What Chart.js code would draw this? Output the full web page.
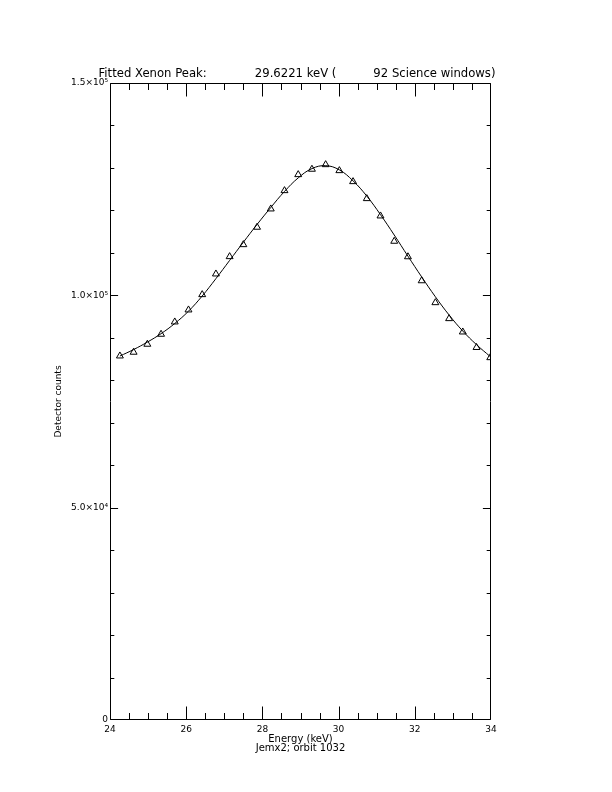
<!DOCTYPE html>
<html>
<head>
<meta charset="utf-8">
<title>Fitted Xenon Peak</title>
<script src="https://cdn.jsdelivr.net/npm/chart.js@4.4.0/dist/chart.umd.min.js"></script>
<style>
  html, body { margin: 0; padding: 0; background: #fff; }
  canvas { display: block; }
</style>
</head>
<body>
<canvas id="peak" width="612" height="792"></canvas>
<script>
// channel energies (keV)
const energies = [
    24.26, 24.62, 24.98, 25.34, 25.70, 26.06, 26.42, 26.78, 27.14, 27.50,
    27.86, 28.22, 28.58, 28.94, 29.30, 29.66, 30.02, 30.38, 30.74, 31.10,
    31.46, 31.82, 32.18, 32.54, 32.90, 33.26, 33.62, 33.98
];
// measured detector counts (triangles)
const measuredCounts = [
    85720, 86600, 88480, 90830, 93730, 96560, 100160, 105030, 109110, 111930,
    116030, 120340, 124650, 128420, 129690, 130770, 129360, 126770, 122770, 118690,
    112730, 109080, 103430, 98270, 94510, 91370, 87720, 85320
];
// fitted peak model (solid line)
const fittedCounts = [
    85700, 87230, 88980, 90970, 93370, 96260, 99840, 103930, 108220, 112500,
    116690, 120680, 124460, 127650, 129840, 130530, 129540, 126950, 123370, 118990,
    114200, 109220, 104340, 99660, 95370, 91580, 88380, 85580
];

const xTickValues = [24, 26, 28, 30, 32, 34];
const xTickLabels = ['24', '26', '28', '30', '32', '34'];
const yTickValues = [0, 50000, 100000, 150000];
const yTickLabels = ['0', '5.0×10⁴', '1.0×10⁵', '1.5×10⁵'];

const FONT = 'DejaVu Sans';

// frame on all four sides with inward major/minor ticks (IDL style)
const frameTicks = {
    id: 'frameTicks',
    afterDraw(chart) {
        const { ctx, chartArea: a, scales: { x, y } } = chart;
        const L = Math.round(a.left) + 0.5, R = Math.round(a.right) - 0.5;
        const T = Math.round(a.top) + 0.5, B = Math.round(a.bottom) - 0.5;
        const clamp = (v, lo, hi) => Math.min(Math.max(v, lo), hi);
        ctx.save();
        ctx.strokeStyle = '#000';
        ctx.lineWidth = 1;
        ctx.beginPath();
        ctx.rect(L, T, R - L, B - T);
        for (let v = x.min; v <= x.max + 1e-9; v += 0.5) {
            const px = clamp(Math.round(x.getPixelForValue(v)) + 0.5, L, R);
            const len = xTickValues.includes(v) ? 13 : 6.5;
            ctx.moveTo(px, B); ctx.lineTo(px, B - len);
            ctx.moveTo(px, T); ctx.lineTo(px, T + len);
        }
        for (let v = y.min; v <= y.max; v += 10000) {
            const py = clamp(Math.round(y.getPixelForValue(v)) + 0.5, T, B);
            const len = yTickValues.includes(v) ? 7.6 : 3.8;
            ctx.moveTo(L, py); ctx.lineTo(L + len, py);
            ctx.moveTo(R, py); ctx.lineTo(R - len, py);
        }
        ctx.stroke();
        ctx.restore();
    }
};

new Chart(document.getElementById('peak'), {
    type: 'scatter',
    data: {
        datasets: [
            {
                label: 'Fit',
                data: energies.map((e, i) => ({ x: e, y: fittedCounts[i] })),
                showLine: true,
                tension: 0.4,
                borderColor: '#000',
                borderWidth: 1,
                pointRadius: 0,
            },
            {
                label: 'Detector counts',
                data: energies.map((e, i) => ({ x: e, y: measuredCounts[i] })),
                showLine: false,
                pointStyle: 'triangle',
                pointRadius: 4,
                borderColor: '#000',
                borderWidth: 1,
                backgroundColor: 'rgba(0,0,0,0)',
            },
        ],
    },
    options: {
        responsive: false,
        animation: false,
        devicePixelRatio: 1,
        // right padding + empty right scale keep the plot at x 110..491
        // while the full-width title is centred near x 297
        layout: { padding: { top: 0, right: 18, bottom: 0, left: 0 } },
        plugins: {
            legend: { display: false },
            tooltip: { enabled: false },
            title: {
                display: true,
                text: 'Fitted Xenon Peak:' + ' '.repeat(13) + '29.6221 keV (' + ' '.repeat(10) + '92 Science windows)',
                color: '#000',
                font: { family: FONT, size: 11.65, weight: 'normal' },
                padding: { top: 67, bottom: 2 },
            },
        },
        scales: {
            x: {
                type: 'linear',
                position: 'bottom',
                min: 24,
                max: 34,
                afterFit(s) { s.height = 72; },
                afterBuildTicks(s) { s.ticks = xTickValues.map(v => ({ value: v })); },
                grid: { display: false, drawTicks: false },
                border: { display: false },
                ticks: {
                    callback: v => xTickLabels[xTickValues.indexOf(v)],
                    color: '#000',
                    font: { family: FONT, size: 9 },
                    padding: 4,
                    maxRotation: 0,
                    autoSkip: false,
                },
                title: {
                    display: true,
                    text: ['Energy (keV)', 'Jemx2; orbit 1032'],
                    color: '#000',
                    font: { family: FONT, size: 10, lineHeight: '9px' },
                    padding: { top: 0, bottom: 39.5 },
                },
            },
            y: {
                type: 'linear',
                position: 'left',
                min: 0,
                max: 150000,
                afterFit(s) { s.width = 110; },
                afterBuildTicks(s) { s.ticks = yTickValues.map(v => ({ value: v })); },
                grid: { display: false, drawTicks: false },
                border: { display: false },
                ticks: {
                    callback: v => yTickLabels[yTickValues.indexOf(v)],
                    color: '#000',
                    font: { family: FONT, size: 9 },
                    padding: 2,
                    autoSkip: false,
                },
                title: {
                    display: true,
                    text: 'Detector counts',
                    color: '#000',
                    font: { family: FONT, size: 9 },
                    padding: { top: 53.1, bottom: 0 },
                },
            },
            yRight: {
                type: 'linear',
                position: 'right',
                min: 0,
                max: 150000,
                afterFit(s) { s.width = 103; },
                grid: { display: false, drawTicks: false },
                border: { display: false },
                ticks: { display: false },
            },
        },
    },
    plugins: [frameTicks],
});
</script>
</body>
</html>
